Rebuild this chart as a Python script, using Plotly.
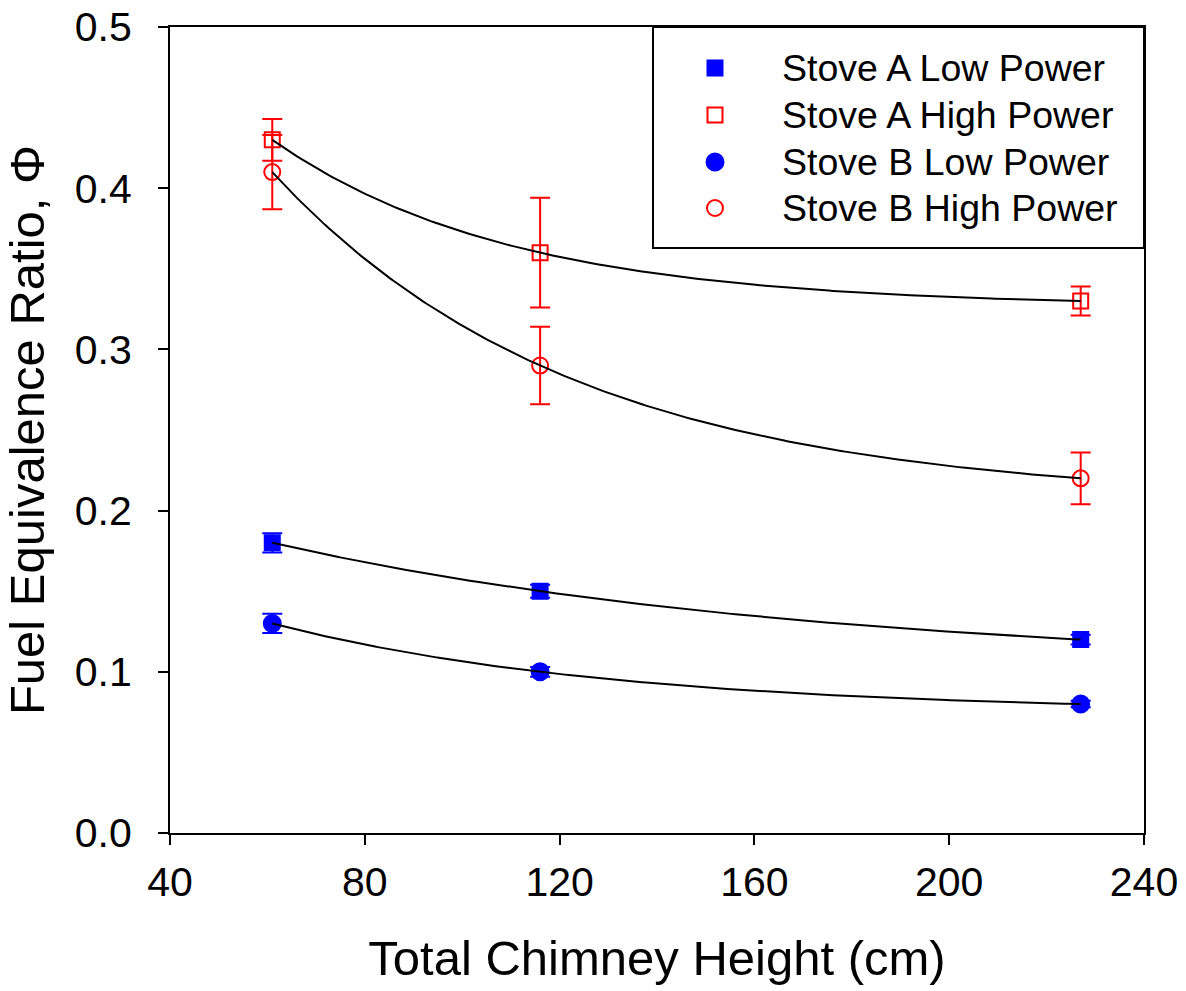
import numpy as np
import plotly.graph_objects as go

# Measured fuel equivalence ratio vs. total chimney height
height_cm = [61, 116, 227]

series_names = ["Stove A Low Power", "Stove A High Power",
                "Stove B Low Power", "Stove B High Power"]

phi_a_low = [0.18, 0.15, 0.12]
err_a_low = [0.006, 0.004, 0.003]

phi_a_high = [0.43, 0.36, 0.33]
err_a_high = [0.013, 0.034, 0.009]

phi_b_low = [0.13, 0.10, 0.08]
err_b_low = [0.006, 0.003, 0.002]

phi_b_high = [0.41, 0.29, 0.22]
err_b_high = [0.023, 0.024, 0.016]

x_ticks = [40, 80, 120, 160, 200, 240]
y_ticks = [0.0, 0.1, 0.2, 0.3, 0.4, 0.5]

FONT = "Liberation Sans, Arial, sans-serif"
BLUE = "#0000FF"
RED = "#FF0000"


def exp_decay_fit(x, y):
    """Three-parameter exponential decay y = y0 + a*exp(-b*x) through three points."""
    x0, x1, x2 = x
    r = (y[1] - y[2]) / (y[0] - y[1])

    def g(b):
        e1 = np.exp(-b * (x1 - x0))
        e2 = np.exp(-b * (x2 - x0))
        return (e1 - e2) / (1.0 - e1) - r

    lo, hi = 1e-7, 1.0
    for _ in range(200):
        mid = 0.5 * (lo + hi)
        if g(mid) > 0:
            lo = mid
        else:
            hi = mid
    b = 0.5 * (lo + hi)
    a = (y[0] - y[1]) / (np.exp(-b * x0) - np.exp(-b * x1))
    c = y[0] - a * np.exp(-b * x0)
    xs = np.linspace(x0, x2, 200)
    return xs, c + a * np.exp(-b * xs)


series = [
    (series_names[0], phi_a_low, err_a_low, "square", BLUE, 15),
    (series_names[1], phi_a_high, err_a_high, "square-open", RED, 15),
    (series_names[2], phi_b_low, err_b_low, "circle", BLUE, 17),
    (series_names[3], phi_b_high, err_b_high, "circle-open", RED, 16),
]

fig = go.Figure()

for name, vals, errs, sym, col, size in series:
    fig.add_trace(go.Scatter(
        x=height_cm, y=vals, mode="markers", name=name, showlegend=False,
        marker=dict(symbol=sym, color=col, size=size, line=dict(color=col, width=2)),
        error_y=dict(type="data", array=errs, visible=True, color=col,
                     thickness=2, width=10),
    ))

for name, vals, errs, sym, col, size in series:
    xs, ys = exp_decay_fit(height_cm, vals)
    fig.add_trace(go.Scatter(
        x=xs, y=ys, mode="lines", showlegend=False, hoverinfo="skip",
        line=dict(color="black", width=2),
    ))

# Legend box drawn on an overlay axis spanning the plot area (0..1)
L, R, T, B = 170, 1144, 27, 833
W, H = R - L, B - T


def px_x(p):
    return (p - L) / W


def px_y(p):
    return (B - p) / H


row_y = [68, 115, 162, 208]
marker_x = 715
text_x = 780

for (name, vals, errs, sym, col, size), ry in zip(series, row_y):
    fig.add_trace(go.Scatter(
        x=[px_x(marker_x)], y=[px_y(ry)], xaxis="x2", yaxis="y2",
        mode="markers", showlegend=False, hoverinfo="skip",
        marker=dict(symbol=sym, color=col, size=size,
                    line=dict(color=col, width=2)),
    ))
    fig.add_annotation(
        x=px_x(text_x), y=px_y(ry), xref="paper", yref="paper",
        text=name, showarrow=False, xanchor="left", yanchor="middle",
        font=dict(family=FONT, size=37.5, color="black"),
    )

fig.add_shape(
    type="rect", xref="paper", yref="paper",
    x0=px_x(653), x1=1.0, y0=px_y(248), y1=1.0,
    line=dict(color="black", width=2), fillcolor="rgba(0,0,0,0)",
)

fig.update_layout(
    width=1186, height=991,
    margin=dict(l=L, r=1186 - R, t=T, b=991 - B),
    paper_bgcolor="white", plot_bgcolor="white",
    font=dict(family=FONT, color="black"),
    showlegend=False,
    xaxis=dict(
        range=[40, 240], tickvals=x_ticks, ticktext=[str(v) for v in x_ticks],
        ticks="outside", ticklen=10, tickwidth=2, tickcolor="black",
        showline=True, linecolor="black", linewidth=2, mirror=True,
        showgrid=False, zeroline=False, automargin=False,
        tickfont=dict(family=FONT, size=41), ticklabelstandoff=2,
        title=dict(text="Total Chimney Height (cm)",
                   font=dict(family=FONT, size=49), standoff=36),
    ),
    yaxis=dict(
        range=[0, 0.5], tickvals=y_ticks, ticktext=[f"{v:.1f}" for v in y_ticks],
        ticks="outside", ticklen=10, tickwidth=2, tickcolor="black",
        showline=True, linecolor="black", linewidth=2, mirror=True,
        showgrid=False, zeroline=False, automargin=False,
        tickfont=dict(family=FONT, size=41), ticklabelstandoff=18,
        title=dict(text="Fuel Equivalence Ratio, Φ",
                   font=dict(family=FONT, size=49), standoff=18),
    ),
    xaxis2=dict(range=[0, 1], overlaying="x", visible=False, fixedrange=True),
    yaxis2=dict(range=[0, 1], overlaying="y", visible=False, fixedrange=True),
)

fig.write_html("out.html")
